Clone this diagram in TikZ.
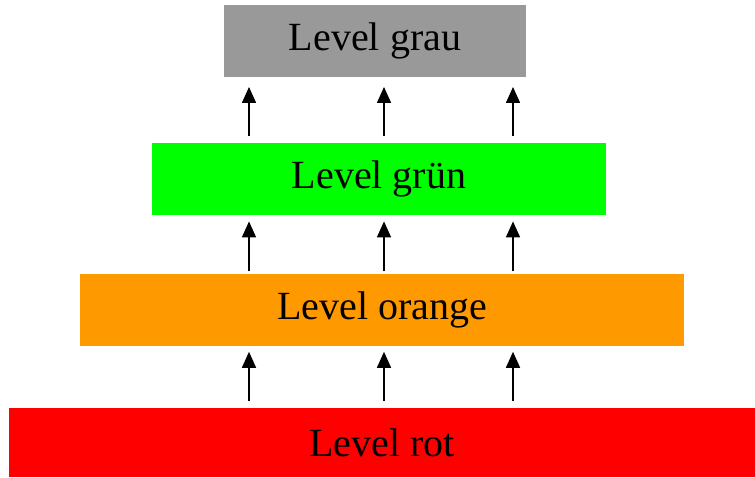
\documentclass[tikz,border=0pt]{standalone}
\usepackage{fontspec}
\setmainfont{Liberation Serif}
\usetikzlibrary{positioning,arrows.meta}

\definecolor{grau}{HTML}{999999}
\definecolor{gruen}{HTML}{00FF00}
\definecolor{orange}{HTML}{FF9900}
\definecolor{rot}{HTML}{FF0000}

\begin{document}
\begin{tikzpicture}[x=1pt, y=1pt, level/.style = {inner sep=0pt, minimum height=72pt, font=\fontsize{40}{48}\selectfont},
		up/.style = {-{Triangle[width=14pt,length=16pt]}, line width=1.6pt}]
		\useasboundingbox (0,0) rectangle (755,477);
		\node[level, fill=rot, minimum width=746pt, minimum height=69pt] (rot) at (382,34.5) {Level rot};
		\node[level, fill=orange, minimum width=604pt] (orange) [above=62pt of rot] {Level orange};
		\node[level, fill=gruen, minimum width=454pt] (gruen) [above=58pt of orange, xshift=-3pt] {Level grün};
		\node[level, fill=grau, minimum width=302pt] (grau) [above=66pt of gruen, xshift=-4pt] {Level grau};
		
		\foreach \x in {249,384,513} {
			\draw[up, shorten <=7pt, shorten >=6pt] (\x,0 |- rot.north) -- (\x,0 |- orange.south);
			\draw[up, shorten <=2pt, shorten >=6pt] (\x,0 |- orange.north) -- (\x,0 |- gruen.south);
			\draw[up, shorten <=7pt, shorten >=10pt] (\x,0 |- gruen.north) -- (\x,0 |- grau.south);
		}
	\end{tikzpicture}
\end{document}
